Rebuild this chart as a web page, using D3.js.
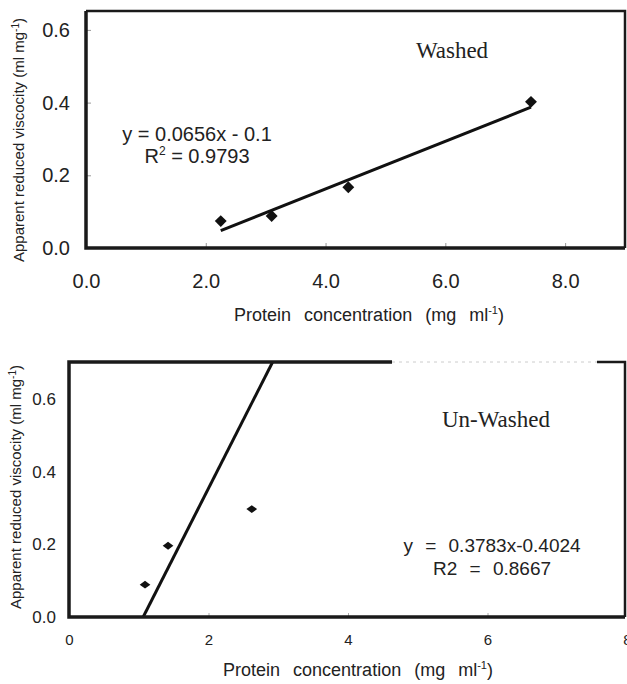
<!DOCTYPE html>
<html>
<head>
<meta charset="utf-8">
<script src="https://cdn.jsdelivr.net/npm/d3@7"></script>
<style>
  body { margin: 0; background: #fff; }
  text { font-family: "Liberation Sans", Arial, sans-serif; fill: #222; }
</style>
</head>
<body>
<div id="canvas"></div>
<script>
// washed sample
const washedX = [2.25, 3.1, 4.38, 7.43];
const washedY = [0.074, 0.088, 0.167, 0.402];
const washedFit = [0.0656, -0.1];
const washedXTicks = [0, 2, 4, 6, 8];
const washedYTicks = [0, 0.2, 0.4, 0.6];

// un-washed sample
const unwashedX = [1.09, 1.42, 2.62];
const unwashedY = [0.089, 0.196, 0.297];
const unwashedFit = [0.3783, -0.4024];
const unwashedXTicks = [0, 2, 4, 6, 8];
const unwashedYTicks = [0, 0.2, 0.4, 0.6];

const width = 627;
const height = 684;

const svg = d3.select("#canvas").append("svg")
    .attr("width", width)
    .attr("height", height);

function yTitle(g, x, y, size) {
    const t = g.append("text")
        .attr("transform", `translate(${x},${y}) rotate(-90)`)
        .attr("text-anchor", "middle")
        .style("font-size", size + "px");
    t.append("tspan").text("Apparent reduced viscocity (ml mg");
    t.append("tspan").attr("dy", -5).style("font-size", (size - 5) + "px").text("-1");
    t.append("tspan").attr("dy", 5).text(")");
}

function xTitle(g, x, y) {
    const t = g.append("text")
        .attr("x", x).attr("y", y)
        .attr("text-anchor", "middle")
        .style("font-size", "18px")
        .style("word-spacing", "8px");
    t.append("tspan").text("Protein concentration (mg ml");
    t.append("tspan").attr("dy", -7).style("font-size", "11px").text("-1");
    t.append("tspan").attr("dy", 7).text(")");
}

// ---------- top chart ----------
{
    const left = 86, top = 11, right = 625, bottom = 248;
    const x = d3.scaleLinear().domain([0, 9]).range([left, right]);
    const y = d3.scaleLinear().domain([0, 0.652]).range([bottom, top]);
    const g = svg.append("g");

    g.append("g")
        .attr("transform", `translate(0,${bottom})`)
        .call(d3.axisBottom(x).tickValues(washedXTicks).tickSize(-5).tickPadding(26).tickFormat(d3.format(".1f")))
        .call(a => a.select(".domain").remove())
        .call(a => a.selectAll("line").attr("stroke", "#999"))
        .call(a => a.selectAll("text").style("font-size", "20px").attr("fill", "#222"));

    g.append("g")
        .attr("transform", `translate(${left},0)`)
        .call(d3.axisLeft(y).tickValues(washedYTicks).tickSize(-5).tickPadding(16).tickFormat(d3.format(".1f")))
        .call(a => a.select(".domain").remove())
        .call(a => a.selectAll("line").attr("stroke", "#999"))
        .call(a => a.selectAll("text").style("font-size", "20px").attr("fill", "#222"));

    const frame = g.append("g").attr("stroke", "#1a1a1a").attr("fill", "none");
    frame.append("path").attr("d", `M${right},${bottom}H${left}V${top}`).attr("stroke-width", 3.5);
    frame.append("path").attr("d", `M${left},${top}H${right}V${bottom}`).attr("stroke-width", 2.5);

    const x0 = d3.min(washedX), x1 = d3.max(washedX);
    g.append("line")
        .attr("x1", x(x0)).attr("y1", y(washedFit[0] * x0 + washedFit[1]))
        .attr("x2", x(x1)).attr("y2", y(washedFit[0] * x1 + washedFit[1]))
        .attr("stroke", "#111").attr("stroke-width", 3);

    g.selectAll(".pt").data(washedX).enter().append("path")
        .attr("class", "pt")
        .attr("d", d3.symbol(d3.symbolDiamond2, 90))
        .attr("transform", (d, i) => `translate(${x(d)},${y(washedY[i])})`)
        .attr("fill", "#111");

    g.append("text").attr("x", 197).attr("y", 141).attr("text-anchor", "middle")
        .style("font-size", "20px").text("y = 0.0656x - 0.1");
    const r = g.append("text").attr("x", 197).attr("y", 163).attr("text-anchor", "middle")
        .style("font-size", "20px");
    r.append("tspan").text("R");
    r.append("tspan").attr("dy", -8).style("font-size", "12px").text("2");
    r.append("tspan").attr("dy", 8).text(" = 0.9793");

    g.append("text").attr("x", 452).attr("y", 58).attr("text-anchor", "middle")
        .style("font-family", "'Liberation Serif', 'Times New Roman', serif")
        .style("font-size", "23px").text("Washed");

    yTitle(g, 24, 140, 15);
    xTitle(g, 369, 321);
}

// ---------- bottom chart ----------
{
    const left = 69, top = 362, right = 625, bottom = 617;
    const x = d3.scaleLinear().domain([0, 8]).range([left, left + 558]);
    const y = d3.scaleLinear().domain([0, 0.702]).range([bottom, top]);
    const g = svg.append("g");

    g.append("g")
        .attr("transform", `translate(0,${bottom})`)
        .call(d3.axisBottom(x).tickValues(unwashedXTicks).tickSize(-4).tickPadding(17).tickFormat(d3.format("d")))
        .call(a => a.select(".domain").remove())
        .call(a => a.selectAll("line").attr("stroke", "#aaa"))
        .call(a => a.selectAll("text").style("font-size", "15px").attr("fill", "#333"));

    g.append("g")
        .attr("transform", `translate(${left},0)`)
        .call(d3.axisLeft(y).tickValues(unwashedYTicks).tickSize(0).tickPadding(13).tickFormat(d3.format(".1f")))
        .call(a => a.select(".domain").remove())
        .call(a => a.selectAll("text").style("font-size", "17px").attr("fill", "#333"));

    svg.append("clipPath").attr("id", "clipB")
        .append("rect").attr("x", left).attr("y", top).attr("width", right - left).attr("height", bottom - top);

    const xs = -unwashedFit[1] / unwashedFit[0];
    const xe = (y.domain()[1] - unwashedFit[1]) / unwashedFit[0];
    g.append("line")
        .attr("clip-path", "url(#clipB)")
        .attr("x1", x(xs)).attr("y1", y(0))
        .attr("x2", x(xe)).attr("y2", y(y.domain()[1]))
        .attr("stroke", "#111").attr("stroke-width", 3);

    // frame, top edge broken where it was overprinted
    const frame = g.append("g").attr("stroke", "#1a1a1a").attr("stroke-width", 3.5).attr("fill", "none");
    frame.append("path").attr("d", `M${right},${bottom}H${left}V${top}H392`);
    frame.append("path").attr("d", `M597,${top}H${right}V${bottom}`).attr("stroke-width", 2.5);
    frame.append("path").attr("d", `M392,${top}H597`).attr("stroke", "#ccc").attr("stroke-width", 1)
        .attr("stroke-dasharray", "3,4");

    g.selectAll(".pt").data(unwashedX).enter().append("path")
        .attr("class", "pt")
        .attr("d", d3.symbol(d3.symbolDiamond2, 55))
        .attr("transform", (d, i) => `translate(${x(d)},${y(unwashedY[i])}) scale(1.15,0.85)`)
        .attr("fill", "#111");

    g.append("text").attr("x", 496).attr("y", 427).attr("text-anchor", "middle")
        .style("font-family", "'Liberation Serif', 'Times New Roman', serif")
        .style("font-size", "23px").text("Un-Washed");

    g.append("text").attr("x", 492).attr("y", 552).attr("text-anchor", "middle")
        .style("font-size", "19px").style("word-spacing", "7px").text("y = 0.3783x-0.4024");
    g.append("text").attr("x", 492).attr("y", 575).attr("text-anchor", "middle")
        .style("font-size", "19px").style("word-spacing", "7px").text("R2 = 0.8667");

    yTitle(g, 21, 487, 15);
    xTitle(g, 358, 676);
}
</script>
</body>
</html>
